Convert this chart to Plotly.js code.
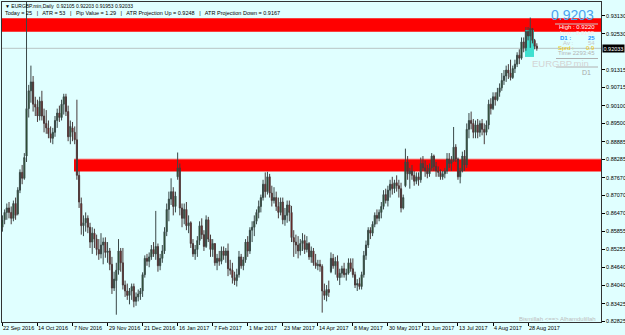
<!DOCTYPE html>
<html><head><meta charset="utf-8">
<script src="https://cdn.plot.ly/plotly-3.0.1.min.js"></script>
<style>html,body{margin:0;padding:0;background:#e0ffff;}#chart{width:625px;height:335px;}</style>
</head><body><div id="chart"></div>
<script>
// ---- DATA (EURGBP.min, Daily) ----
const opens = [
.8600,.8625,.8650,.8665,.8650,.8630,.8680,.8645,.8725,.8785,.8765,.8840,.9000,.9060,.9090,.9015,.9005,.8975,.9025,.8975,
.8950,.8935,.8915,.8900,.8920,.8960,.8985,.8970,.9015,.9040,.8990,.8905,.8935,.8920,.8895,.8775,.8680,.8605,.8615,.8630,
.8600,.8550,.8580,.8560,.8525,.8510,.8540,.8550,.8515,.8520,.8475,.8395,.8420,.8455,.8520,.8480,.8405,.8385,.8370,.8385,
.8400,.8350,.8365,.8375,.8385,.8440,.8495,.8485,.8500,.8525,.8510,.8535,.8470,.8495,.8520,.8585,.8660,.8695,.8720,.8670,
.8770,.8800,.8665,.8630,.8660,.8605,.8615,.8545,.8510,.8525,.8555,.8605,.8575,.8535,.8625,.8560,.8525,.8545,.8480,.8495,
.8485,.8520,.8505,.8520,.8460,.8455,.8430,.8420,.8440,.8500,.8470,.8490,.8550,.8520,.8590,.8600,.8620,.8650,.8670,.8700,
.8745,.8720,.8770,.8715,.8690,.8700,.8670,.8650,.8685,.8625,.8640,.8675,.8650,.8565,.8550,.8540,.8520,.8545,.8555,.8525,
.8545,.8500,.8520,.8480,.8470,.8475,.8468,.8385,.8370,.8390,.8450,.8495,.8470,.8485,.8430,.8445,.8460,.8440,.8445,.8480,
.8460,.8440,.8405,.8410,.8400,.8440,.8505,.8540,.8590,.8580,.8610,.8640,.8630,.8650,.8670,.8710,.8690,.8725,.8745,.8730,
.8750,.8740,.8730,.8665,.8740,.8820,.8780,.8790,.8775,.8755,.8770,.8760,.8815,.8800,.8790,.8780,.8800,.8840,.8805,.8790,
.8785,.8770,.8780,.8790,.8830,.8815,.8825,.8870,.8830,.8770,.8790,.8840,.8810,.8930,.8960,.8950,.8920,.8945,.8920,.8950,
.8930,.8920,.8945,.9015,.9000,.9040,.9030,.9055,.9070,.9095,.9110,.9130,.9120,.9105,.9135,.9150,.9180,.9170,.9225,.9205,
.9260,.9245,.9270,.9230,.92105];
const highs = [
.8640,.8660,.8680,.8685,.8670,.8690,.8700,.8735,.8795,.8810,.8850,.9420,.9080,.9145,.9110,.9040,.9030,.9040,.9060,.9000,
.8995,.8960,.8940,.8935,.8975,.9000,.9010,.9030,.9050,.9050,.9010,.8960,.8955,.8940,.9030,.8790,.8700,.8640,.8650,.8640,
.8615,.8600,.8595,.8575,.8560,.8580,.8565,.8566,.8550,.8530,.8500,.8450,.8480,.8560,.8530,.8530,.8420,.8410,.8395,.8410,
.8410,.8380,.8390,.8395,.8448,.8505,.8510,.8515,.8540,.8550,.8655,.8545,.8510,.8540,.8600,.8680,.8720,.8765,.8735,.8720,
.8852,.8815,.8680,.8680,.8685,.8640,.8620,.8560,.8540,.8570,.8620,.8630,.8590,.8640,.8635,.8575,.8560,.8545,.8510,.8520,
.8535,.8535,.8530,.8545,.8490,.8480,.8450,.8460,.8520,.8510,.8500,.8560,.8570,.8600,.8620,.8640,.8660,.8690,.8710,.8760,
.8785,.8787,.8780,.8740,.8735,.8720,.8700,.8700,.8700,.8665,.8690,.8690,.8672,.8590,.8575,.8570,.8560,.8580,.8575,.8570,
.8550,.8535,.8530,.8510,.8490,.8490,.8475,.8410,.8405,.8420,.8515,.8510,.8500,.8505,.8460,.8470,.8480,.8460,.8495,.8495,
.8495,.8450,.8425,.8430,.8450,.8520,.8555,.8600,.8600,.8620,.8650,.8660,.8660,.8685,.8725,.8730,.8740,.8760,.8770,.8760,
.8775,.8760,.8750,.8710,.8865,.8840,.8800,.8810,.8790,.8785,.8785,.8835,.8840,.8825,.8810,.8815,.8850,.8845,.8820,.8805,
.8795,.8790,.8800,.8850,.8850,.8840,.8938,.8880,.8835,.8800,.8855,.8860,.8950,.8985,.8990,.8965,.8960,.8965,.8960,.8965,
.8950,.8960,.9030,.9035,.9055,.9055,.9070,.9085,.9120,.9130,.9145,.9150,.9165,.9145,.9165,.9190,.9200,.9240,.9240,.9275,
.9275,.9307,.9272,.9235,.92203];
const lows = [
.8585,.8610,.8625,.8630,.8610,.8620,.8625,.8640,.8715,.8745,.8760,.8820,.8970,.9020,.8990,.8975,.8955,.8960,.8960,.8920,
.8915,.8900,.8885,.8880,.8905,.8935,.8955,.8960,.8980,.8975,.8890,.8880,.8890,.8880,.8760,.8665,.8575,.8570,.8585,.8580,
.8530,.8510,.8530,.8505,.8490,.8495,.8475,.8497,.8480,.8455,.8375,.8385,.8305,.8440,.8450,.8390,.8365,.8355,.8340,.8355,
.8330,.8335,.8350,.8355,.8365,.8430,.8470,.8465,.8490,.8500,.8490,.8450,.8455,.8480,.8510,.8570,.8620,.8675,.8640,.8650,
.8760,.8640,.8600,.8610,.8590,.8580,.8530,.8500,.8490,.8500,.8540,.8560,.8520,.8530,.8550,.8500,.8500,.8470,.8455,.8470,
.8475,.8490,.8480,.8435,.8440,.8410,.8405,.8400,.8430,.8460,.8455,.8480,.8500,.8510,.8550,.8570,.8610,.8630,.8650,.8690,
.8700,.8710,.8700,.8670,.8680,.8655,.8630,.8640,.8610,.8605,.8615,.8620,.8550,.8500,.8510,.8495,.8505,.8520,.8510,.8515,
.8490,.8480,.8470,.8460,.8455,.8450,.8312,.8355,.8350,.8365,.8445,.8460,.8440,.8420,.8405,.8430,.8430,.8420,.8440,.8450,
.8430,.8395,.8385,.8390,.8390,.8430,.8490,.8530,.8560,.8570,.8600,.8610,.8620,.8630,.8660,.8680,.8670,.8700,.8710,.8715,
.8720,.8700,.8650,.8660,.8735,.8760,.8730,.8760,.8740,.8745,.8740,.8750,.8790,.8770,.8765,.8770,.8790,.8790,.8770,.8770,
.8760,.8760,.8765,.8780,.8800,.8790,.8820,.8820,.8760,.8748,.8785,.8790,.8800,.8900,.8930,.8900,.8900,.8900,.8905,.8910,
.8880,.8910,.8930,.8980,.8995,.9010,.9025,.9040,.9060,.9080,.9090,.9100,.9095,.9100,.9120,.9140,.9150,.9165,.9190,.9195,
.9230,.9205,.9220,.9200,.91953];
const closes = [
.8625,.8650,.8665,.8650,.8630,.8680,.8640,.8725,.8785,.8765,.8835,.9000,.9060,.9090,.9015,.9005,.8975,.9025,.8975,.8950,
.8935,.8915,.8900,.8920,.8960,.8985,.8970,.9015,.9040,.8990,.8905,.8940,.8920,.8895,.8775,.8685,.8605,.8615,.8630,.8600,
.8550,.8580,.8560,.8525,.8510,.8540,.8550,.8515,.8520,.8475,.8395,.8425,.8455,.8520,.8480,.8405,.8385,.8370,.8385,.8400,
.8350,.8365,.8375,.8385,.8440,.8495,.8485,.8500,.8525,.8510,.8535,.8470,.8495,.8520,.8585,.8660,.8695,.8720,.8670,.8705,
.8800,.8665,.8630,.8660,.8605,.8615,.8545,.8510,.8525,.8555,.8605,.8575,.8535,.8625,.8560,.8525,.8545,.8480,.8495,.8485,
.8520,.8505,.8520,.8460,.8455,.8430,.8420,.8440,.8500,.8470,.8490,.8550,.8520,.8590,.8600,.8620,.8650,.8670,.8700,.8745,
.8720,.8770,.8715,.8690,.8700,.8670,.8650,.8685,.8625,.8640,.8675,.8650,.8565,.8550,.8540,.8520,.8545,.8555,.8525,.8545,
.8500,.8520,.8480,.8470,.8475,.8468,.8385,.8370,.8390,.8380,.8495,.8470,.8485,.8430,.8445,.8460,.8440,.8445,.8480,.8460,
.8440,.8405,.8410,.8400,.8440,.8505,.8540,.8590,.8580,.8610,.8640,.8630,.8650,.8670,.8710,.8690,.8725,.8745,.8730,.8750,
.8740,.8730,.8665,.8700,.8820,.8780,.8790,.8775,.8755,.8770,.8760,.8815,.8800,.8790,.8780,.8800,.8840,.8805,.8790,.8785,
.8770,.8780,.8790,.8830,.8815,.8825,.8870,.8830,.8770,.8790,.8840,.8810,.8930,.8960,.8950,.8920,.8945,.8920,.8950,.8930,
.8920,.8945,.9015,.9000,.9040,.9030,.9055,.9070,.9095,.9110,.9130,.9120,.9105,.9135,.9150,.9180,.9170,.9225,.9205,.9260,
.9245,.9270,.9230,.9210,.92033];

const firstDay = '2016-09-22';
const marketHolidays = ['2016-12-26', '2017-01-02'];
const tickDates = ['2016-09-22','2016-10-14','2016-11-07','2016-11-29','2016-12-21','2017-01-16','2017-02-07','2017-03-01',
  '2017-03-23','2017-04-14','2017-05-08','2017-05-30','2017-06-21','2017-07-13','2017-08-04','2017-08-28'];
const tickLabels = ['22 Sep 2016','14 Oct 2016','7 Nov 2016','29 Nov 2016','21 Dec 2016','16 Jan 2017','7 Feb 2017','1 Mar 2017',
  '23 Mar 2017','14 Apr 2017','8 May 2017','30 May 2017','21 Jun 2017','13 Jul 2017','4 Aug 2017','28 Aug 2017'];
const priceTicks = [0.93130,0.92530,0.91315,0.90715,0.90100,0.89500,0.88885,0.88285,0.87670,0.87070,0.86470,0.85855,
  0.85255,0.84640,0.84040,0.83425,0.82825];
const priceTickLabels = ['0.93130','0.92530','0.91315','0.90715','0.90100','0.89500','0.88885','0.88285','0.87670','0.87070',
  '0.86470','0.85855','0.85255','0.84640','0.84040','0.83425','0.82825'];
const upperZone = [0.92594, 0.93046];
const lowerZone = [0.87883, 0.88304];
const weekBox = [0.91742, 0.92652];
const currentPrice = 0.92033;

// trading-day categories (weekdays, broker holidays skipped)
function tradingDays(start, n, skip) {
  const out = []; const d = new Date(start + 'T00:00:00Z');
  while (out.length < n) {
    const wd = d.getUTCDay(); const s = d.toISOString().slice(0, 10);
    if (wd !== 0 && wd !== 6 && skip.indexOf(s) < 0) out.push(s);
    d.setUTCDate(d.getUTCDate() + 1);
  }
  return out;
}
const dates = tradingDays(firstDay, opens.length, marketHolidays);

// ---- LAYOUT HELPERS (pixel -> paper) ----
const W = 625, H = 335, ML = 2, MR = 24, MT = 2, MB = 13;
const PW = W - ML - MR, PH = H - MT - MB;
const px = x => (x - ML) / PW;
const py = y => (H - MB - y) / PH;
const FONT = 'Liberation Sans, Arial, sans-serif';

const trace = {
  type: 'candlestick', x: dates, open: opens, high: highs, low: lows, close: closes,
  increasing: {line: {color: '#3a4848', width: 1}, fillcolor: '#0d5c0d'},
  decreasing: {line: {color: '#483a3a', width: 1}, fillcolor: '#b00000'},
  whiskerwidth: 0, hoverinfo: 'skip', showlegend: false
};

function ann(text, x, y, opts) {
  return Object.assign({text: text, xref: 'paper', yref: 'paper', x: px(x), y: py(y), showarrow: false,
    xanchor: 'left', yanchor: 'middle', font: {family: FONT, size: 6, color: '#000'}}, opts || {});
}

const annotations = [
  ann('\u25BC EURGBP.min,Daily  0.92105 0.92203 0.91953 0.92033', 3, 5.5, {font: {family: FONT, size: 5, color: '#000'}}),
  ann('Today = 25   |   ATR = 53   |   Pip Value = 1.29   |   ATR Projection Up = 0.9248   |   ATR Projection Down = 0.9167', 3, 13.5, {font: {family: FONT, size: 5.5, color: '#000'}}),
  ann('0.9203', 596, 15, {xanchor: 'right', font: {family: FONT, size: 14, color: '#4aa3f0'}}),
  ann('High : 0.9220', 597, 27, {xanchor: 'right', font: {family: FONT, size: 6, color: '#ffffff'}}),
  ann('Low : 0.9195', 597, 33, {xanchor: 'right', font: {family: FONT, size: 6, color: '#ffe8e8'}}),
  ann('<b>D1 :</b>', 558, 38.5, {font: {family: FONT, size: 6, color: '#1e90ff'}}),
  ann('<b>25</b>', 597, 38.5, {xanchor: 'right', font: {family: FONT, size: 6, color: '#1e90ff'}}),
  ann('Av :', 561, 43.5, {font: {family: FONT, size: 6, color: '#c8c8c8'}}),
  ann('54', 597, 43.5, {xanchor: 'right', font: {family: FONT, size: 6, color: '#c8c8c8'}}),
  ann('Sprd :', 556, 48.5, {font: {family: FONT, size: 6, color: '#f2c200'}}),
  ann('0.9', 597, 48.5, {xanchor: 'right', font: {family: FONT, size: 6, color: '#f2c200'}}),
  ann('Time 2293:45', 597, 53.5, {xanchor: 'right', font: {family: FONT, size: 6, color: '#b4b4b4'}}),
  ann('EURGBP.min', 591, 63, {xanchor: 'right', font: {family: FONT, size: 9.5, color: '#d4d4d4'}}),
  ann('D1', 593, 72, {xanchor: 'right', font: {family: FONT, size: 7, color: '#a8a8a8'}}),
  ann('Bismillah &lt;==&gt; Alhamdulillah', 598, 318.5, {xanchor: 'right', font: {family: FONT, size: 6, color: '#bcbcbc'}}),
  {text: '0.92033', xref: 'paper', yref: 'y', x: px(602), y: currentPrice, showarrow: false, xanchor: 'left', yanchor: 'middle',
   bgcolor: '#000', borderpad: 0.5, font: {family: FONT, size: 5.5, color: '#fff'}}
];
// date labels, left-aligned at their tick (MetaTrader style)
tickDates.forEach((d, i) => annotations.push({text: tickLabels[i], xref: 'x', yref: 'paper', x: d, y: py(328),
  showarrow: false, xanchor: 'left', yanchor: 'middle', xshift: -1, font: {family: FONT, size: 5.5, color: '#000'}}));

const shapes = [
  {type: 'rect', xref: 'paper', yref: 'y', x0: 0, x1: 1, y0: upperZone[0], y1: upperZone[1], fillcolor: '#ff0000', line: {width: 0}, layer: 'below'},
  {type: 'rect', xref: 'paper', yref: 'y', x0: px(74), x1: 1, y0: lowerZone[0], y1: lowerZone[1], fillcolor: '#ff0000', line: {width: 0}, layer: 'below'},
  {type: 'line', xref: 'paper', yref: 'y', x0: px(74), x1: 1, y0: lowerZone[1], y1: lowerZone[1], line: {color: '#f0b0b0', width: 1}, layer: 'below'},
  {type: 'line', xref: 'paper', yref: 'y', x0: 0, x1: 1, y0: currentPrice, y1: currentPrice, line: {color: '#b8c4c4', width: 1}, layer: 'below'},
  {type: 'rect', xref: 'paper', yref: 'y', x0: px(525), x1: px(534), y0: weekBox[0], y1: weekBox[1], fillcolor: '#40e0d0', line: {width: 0}, layer: 'below'},
  {type: 'line', xref: 'paper', yref: 'paper', x0: px(555), x1: px(598), y0: py(24), y1: py(24), line: {color: '#c8c8c8', width: 1}},
  {type: 'line', xref: 'paper', yref: 'paper', x0: px(556), x1: px(598), y0: py(58.5), y1: py(58.5), line: {color: '#b0b0b0', width: 1}},
  {type: 'line', xref: 'paper', yref: 'paper', x0: px(556), x1: px(598), y0: py(67), y1: py(67), line: {color: '#b0b0b0', width: 1}}
];

const layout = {
  width: W, height: H, margin: {l: ML, r: MR, t: MT, b: MB, pad: 0},
  paper_bgcolor: '#e0ffff', plot_bgcolor: '#e0ffff', showlegend: false, dragmode: false,
  xaxis: {type: 'category', range: [-0.2, 273.3], showgrid: false, zeroline: false, rangeslider: {visible: false},
    tickmode: 'array', tickvals: tickDates, ticktext: tickLabels, showticklabels: false, ticks: 'outside', ticklen: 3, tickcolor: '#000',
    showline: true, linecolor: '#333', linewidth: 1, mirror: true, fixedrange: true},
  yaxis: {side: 'right', range: [0.82804, 0.93595], showgrid: false, zeroline: false,
    tickmode: 'array', tickvals: priceTicks, ticktext: priceTickLabels, ticks: 'outside', ticklen: 3, tickcolor: '#000',
    tickfont: {family: FONT, size: 5.5, color: '#000'},
    showline: true, linecolor: '#333', linewidth: 1, mirror: true, fixedrange: true},
  shapes: shapes, annotations: annotations
};

Plotly.newPlot('chart', [trace], layout, {staticPlot: true, displayModeBar: false});
</script></body></html>
